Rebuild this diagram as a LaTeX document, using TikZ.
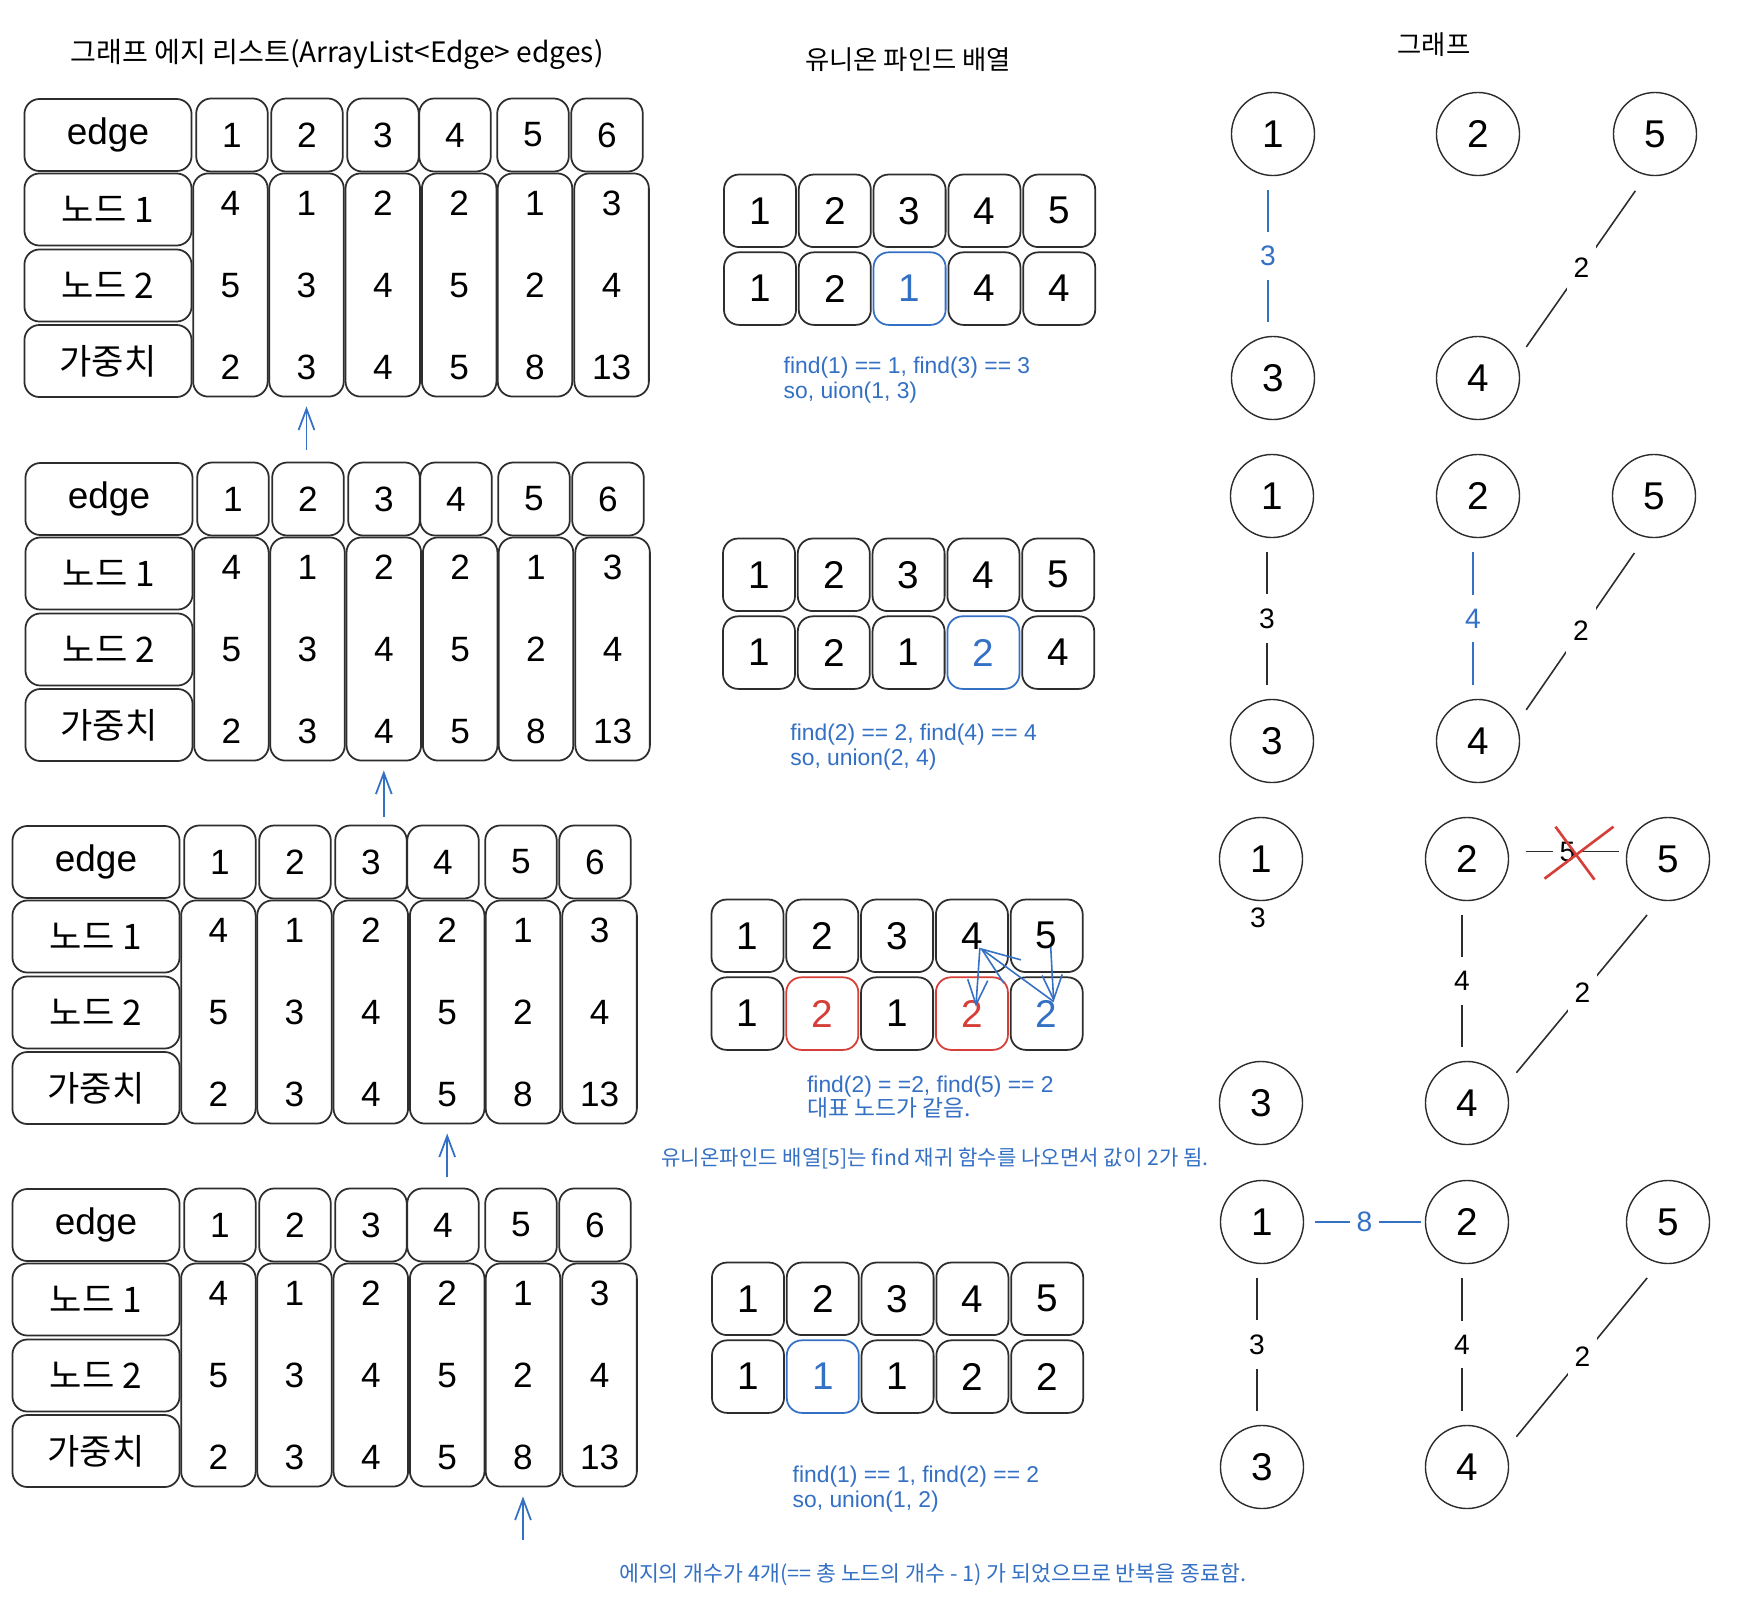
\documentclass[tikz,border=0pt]{standalone}
\usepackage{fontspec}
\setmainfont{Liberation Sans}
\newfontfamily\krfont{Noto Sans CJK KR}
\usetikzlibrary{arrows.meta,calc,positioning}

\definecolor{cellgray}{RGB}{45,45,45}
\definecolor{noteblue}{RGB}{52,112,196}
\definecolor{markred}{RGB}{214,62,56}

\tikzset{
  cell/.style={draw=cellgray, line width=0.5pt, rounded corners=0.15cm, inner sep=0pt,
    minimum width=0.715cm, minimum height=0.73cm, font=\fontsize{10}{12}\selectfont},
  labelbox/.style={cell, minimum width=1.67cm, minimum height=0.72cm, font=\krfont\fontsize{10}{12}\selectfont},
  colbox/.style={cell, minimum width=0.745cm, minimum height=2.23cm},
  digit/.style={inner sep=0pt, font=\fontsize{10}{12}\selectfont},
  ufcell/.style={cell, minimum width=0.72cm, minimum height=0.725cm, font=\fontsize{11}{13}\selectfont},
  ufblue/.style={ufcell, draw=noteblue, text=noteblue},
  ufred/.style={ufcell, draw=markred, text=markred},
  ufbluetext/.style={ufcell, text=noteblue},
  vertex/.style={circle, draw=cellgray, line width=0.4pt, minimum size=0.83cm, inner sep=0pt, font=\fontsize{11}{13}\selectfont},
  weight/.style={fill=white, inner xsep=2pt, inner ysep=4pt, font=\fontsize{8}{9}\selectfont},
  link/.style={draw=cellgray, line width=0.45pt, shorten <=0.14cm, shorten >=0.14cm},
  newlink/.style={link, draw=noteblue},
  nextarrow/.style={draw=noteblue, line width=0.5pt, shorten >=0.09cm, -{Straight Barb[length=6pt,width=4.5pt]}},
  findarrow/.style={draw=noteblue, line width=0.45pt, -{Straight Barb[length=7pt,width=5.7pt]}},
  crossmark/.style={draw=markred, line width=0.75pt},
  heading/.style={inner sep=0pt, font=\krfont\fontsize{7.5}{9}\selectfont},
  findnote/.style={text=noteblue, align=left, anchor=west, inner sep=0pt, font=\fontsize{6.5}{7}\selectfont},
  krnote/.style={text=noteblue, inner sep=0pt, font=\krfont\fontsize{6}{7}\selectfont}
}

\begin{document}
\begin{tikzpicture}[x=0.01cm, y=-0.01cm]
    \path[fill=white] (0,0) rectangle (1744,1608);
    \useasboundingbox (0,0) rectangle (1744,1608);

    % Titles
    \node[heading, font=\krfont\fontsize{8}{9}\selectfont] (title1) at (337,54) {그래프 에지 리스트(ArrayList<Edge> edges)};
    \node[heading] (title2) at (908,60) {유니온 파인드 배열};
    \node[heading] (title3) at (1434,45) {그래프};

    % Edge list tables
    \foreach \r/\sx/\sy in {1/0/0, 2/1/364, 3/-12/727, 4/-12/1090} {
      \begin{scope}[shift={(\sx,\sy)}]
        \node[labelbox, font=\fontsize{10.5}{12}\selectfont] (edge\r) at (108,135) {edge};
        \node[labelbox] (from\r) at (108,209.5) {노드 1};
        \node[labelbox] (to\r) at (108,285.5) {노드 2};
        \node[labelbox] (cost\r) at (108,361) {가중치};
        \foreach \i/\hx/\cx/\na/\nb/\wt in {1/232/230.4/4/5/2, 2/307/306.5/1/3/3, 3/383/382.8/2/4/4,
                                            4/455/459.2/2/5/5, 5/533/535/1/2/8, 6/607/611.6/3/4/13} {
          \node[cell] (h\r-\i) at (\hx,135) {\i};
          \node[colbox] (c\r-\i) at (\cx,285) {};
          \node[digit] (a\r-\i) at (\cx,203.5) {\na};
          \node[digit] (b\r-\i) at (\cx,285.5) {\nb};
          \node[digit] (k\r-\i) at (\cx,367.5) {\wt};
        }
      \end{scope}
    }

    % Arrows to the current edge
    \coordinate (tail1) at (306.5,450);
    \coordinate (tail2) at (383.8,817);
    \coordinate (tail3) at (447.2,1177);
    \coordinate (tail4) at (523,1540);
    \draw[nextarrow] (tail1) -- (c1-2);
    \draw[nextarrow] (tail2) -- (c2-3);
    \draw[nextarrow] (tail3) -- (c3-4);
    \draw[nextarrow] (tail4) -- (c4-5);

    % Union-find arrays
    \begin{scope}[shift={(0,0)}]
      \foreach \i in {1,...,5} \node[ufcell] (u1t\i) at ({760+74.8*(\i-1)},210.8) {\i};
      \foreach \i/\val/\sty in {1/1/ufcell, 2/2/ufcell, 3/1/ufblue, 4/4/ufcell, 5/4/ufcell}
        \node[\sty] (u1b\i) at ({760+74.8*(\i-1)},288.6) {\val};
    \end{scope}
    \begin{scope}[shift={(-1,364)}]
      \foreach \i in {1,...,5} \node[ufcell] (u2t\i) at ({760+74.8*(\i-1)},210.8) {\i};
      \foreach \i/\val/\sty in {1/1/ufcell, 2/2/ufcell, 3/1/ufcell, 4/2/ufblue, 5/4/ufcell}
        \node[\sty] (u2b\i) at ({760+74.8*(\i-1)},288.6) {\val};
    \end{scope}
    \begin{scope}[shift={(-12.5,725)}]
      \foreach \i in {1,...,5} \node[ufcell] (u3t\i) at ({760+74.8*(\i-1)},210.8) {\i};
      \foreach \i/\val/\sty in {1/1/ufcell, 2/2/ufred, 3/1/ufcell, 4/2/ufred, 5/2/ufbluetext}
        \node[\sty] (u3b\i) at ({760+74.8*(\i-1)},288.6) {\val};
    \end{scope}
    \begin{scope}[shift={(-12,1088)}]
      \foreach \i in {1,...,5} \node[ufcell] (u4t\i) at ({760+74.8*(\i-1)},210.8) {\i};
      \foreach \i/\val/\sty in {1/1/ufcell, 2/1/ufblue, 3/1/ufcell, 4/2/ufcell, 5/2/ufcell}
        \node[\sty] (u4b\i) at ({760+74.8*(\i-1)},288.6) {\val};
    \end{scope}

    % find() calls in the third step
    \draw[findarrow] ($(u3t4)+(8,12)$) -- ($(u3b4)+(4,-7)$);
    \draw[findarrow] ($(u3t5)+(4,11)$) -- ($(u3b5)+(7,-12)$);
    \draw[findarrow, -{Straight Barb[length=10.8pt,width=8.2pt]}] ($(u3b5)+(7,-12)$) -- ($(u3t4)+(8,12)$);

    % Notes
    \node[findnote] (note1) at (783,380) {find(1) == 1, find(3) == 3\\so, uion(1, 3)};
    \node[findnote] (note2) at (789.7,747) {find(2) == 2, find(4) == 4\\so, union(2, 4)};
    \node[findnote] (note3) at (806.4,1097) {find(2) = =2, find(5) == 2\\{\krfont 대표 노드가 같음.}};
    \node[findnote] (note4) at (792,1489) {find(1) == 1, find(2) == 2\\so, union(1, 2)};
    \node[krnote] (remark1) at (935,1158) {유니온파인드 배열[5]는 find 재귀 함수를 나오면서 값이 2가 됨.};
    \node[krnote, font=\krfont\fontsize{6.15}{7}\selectfont] (remark2) at (932.6,1575) {에지의 개수가 4개(== 총 노드의 개수 - 1) 가 되었으므로 반복을 종료함.};

    % Graphs
    \foreach \r/\lx/\mx/\rx/\ty/\by in {1/1273/1478/1655/134/378, 2/1272/1478/1654/496/741,
                                       3/1261/1467/1668/859/1103, 4/1262/1467/1668/1222/1467} {
      \node[vertex] (g\r-1) at (\lx,\ty) {1};
      \node[vertex] (g\r-2) at (\mx,\ty) {2};
      \node[vertex] (g\r-5) at (\rx,\ty) {5};
      \node[vertex] (g\r-3) at (\lx,\by) {3};
      \node[vertex] (g\r-4) at (\mx,\by) {4};
      \draw[link, shorten <=0.19cm, shorten >=0.17cm] (g\r-5.258) -- node[weight] (e\r-54) {2} (g\r-4.24);
    }

    % Step 1
    \draw[newlink] (g1-1.263) -- node[weight, text=noteblue] (e1-13) {3} (g1-3.97);

    % Step 2
    \draw[link] (g2-1.263) -- node[weight] (e2-13) {3} (g2-3.97);
    \draw[newlink] (g2-2.263) -- node[weight, text=noteblue] (e2-24) {4} (g2-4.97);

    % Step 3
    \node[weight, fill=none] (e3-13) at (1258,918) {3};
    \draw[link] (g3-2.263) -- node[weight] (e3-24) {4} (g3-4.97);
    \draw[link, shorten <=0.17cm, shorten >=0.07cm] (g3-2.10) -- node[weight] (e3-25) {5} (g3-5.170);
    \draw[crossmark] ($(e3-25)+(-12,-25)$) -- ($(e3-25)+(27,28)$)
                     ($(e3-25)+(46,-25)$) -- ($(e3-25)+(-23,27)$);

    % Step 4
    \draw[newlink, shorten <=0.11cm, shorten >=0.04cm] (g4-1) -- node[weight, text=noteblue] (e4-12) {8} (g4-2);
    \draw[link] (g4-1.263) -- node[weight] (e4-13) {3} (g4-3.97);
    \draw[link] (g4-2.263) -- node[weight] (e4-24) {4} (g4-4.97);
\end{tikzpicture}
\end{document}
